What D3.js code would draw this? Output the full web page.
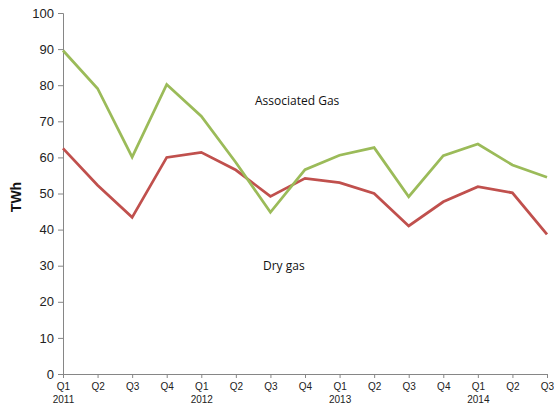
<!DOCTYPE html>
<html lang="en">
	<head>
		<meta charset="utf-8">
		<title>Associated and dry gas</title>
		<script type="text/javascript" src="https://cdn.jsdelivr.net/npm/d3@7"></script>
		<style type="text/css">
			body { margin: 0; background: #fff; }
		</style>
	</head>
	<body>
		<script type="text/javascript">
			var quarters = ["Q1", "Q2", "Q3", "Q4", "Q1", "Q2", "Q3", "Q4",
							"Q1", "Q2", "Q3", "Q4", "Q1", "Q2", "Q3"];
			var years = ["2011", "", "", "", "2012", "", "", "",
						 "2013", "", "", "", "2014", "", ""];
			var associatedGas = [89.6, 79.1, 60.1, 80.2, 71.4, 58.6, 44.8, 56.6,
								 60.6, 62.7, 49.1, 60.5, 63.7, 57.9, 54.5];
			var dryGas = [62.5, 52.3, 43.4, 60.0, 61.4, 56.5, 49.2, 54.2,
						  53.0, 50.0, 41.0, 47.7, 51.9, 50.2, 38.7];
			var yTicks = [0, 10, 20, 30, 40, 50, 60, 70, 80, 90, 100];

			var w = 554;
			var h = 407;
			// note: "top" is reserved on window, so use plot* names
			var plotLeft = 63, plotRight = 547, plotTop = 13, plotBottom = 374;

			var xScale = d3.scaleLinear()
							.domain([0, quarters.length - 1])
							.range([plotLeft, plotRight]);
			var yScale = d3.scaleLinear()
							.domain([0, 100])
							.range([plotBottom, plotTop]);

			var svg = d3.select("body")
							.append("svg")
							.attr("width", w)
							.attr("height", h);

			//y axis
			var yAxis = svg.append("g")
							.attr("transform", "translate(" + plotLeft + ",0)")
							.call(d3.axisLeft(yScale).tickValues(yTicks).tickSize(5).tickPadding(4));
			yAxis.selectAll("text")
					.attr("font-family", "Liberation Sans, Arial, sans-serif")
					.attr("font-size", "13px")
					.attr("fill", "#222");

			//x axis
			var xAxis = svg.append("g")
							.attr("transform", "translate(0," + plotBottom + ")")
							.call(d3.axisBottom(xScale).tickValues(d3.range(quarters.length))
								.tickSize(4).tickFormat(function(i) { return quarters[i]; }));
			xAxis.selectAll("text")
					.attr("y", 9)
					.attr("font-family", "Liberation Sans, Arial, sans-serif")
					.attr("font-size", "10px")
					.attr("fill", "#222");
			xAxis.selectAll(".tick")
					.append("text")
					.text(function(i) { return years[i]; })
					.attr("y", 29)
					.attr("text-anchor", "middle")
					.attr("font-family", "Liberation Sans, Arial, sans-serif")
					.attr("font-size", "10px")
					.attr("fill", "#222");

			svg.selectAll(".domain, .tick line")
					.attr("stroke", "#868686");

			//lines
			var line = d3.line()
							.x(function(d, i) { return xScale(i); })
							.y(function(d) { return yScale(d); });
			svg.append("path")
					.datum(dryGas)
					.attr("d", line)
					.attr("fill", "none")
					.attr("stroke", "#C0504D")
					.attr("stroke-width", 2.75);
			svg.append("path")
					.datum(associatedGas)
					.attr("d", line)
					.attr("fill", "none")
					.attr("stroke", "#9BBB59")
					.attr("stroke-width", 2.75);

			//labels
			svg.append("text")
					.text("Associated Gas")
					.attr("x", 255)
					.attr("y", 105)
					.attr("font-family", "Open Sans, sans-serif")
					.attr("font-size", "12px")
					.attr("fill", "#111");
			svg.append("text")
					.text("Dry gas")
					.attr("x", 263)
					.attr("y", 270)
					.attr("font-family", "Open Sans, sans-serif")
					.attr("font-size", "12px")
					.attr("fill", "#111");
			svg.append("text")
					.text("TWh")
					.attr("transform", "translate(21,197) rotate(-90)")
					.attr("text-anchor", "middle")
					.attr("font-family", "Liberation Sans, Arial, sans-serif")
					.attr("font-size", "14px")
					.attr("font-weight", "bold")
					.attr("fill", "#111");
		</script>
	</body>
</html>
